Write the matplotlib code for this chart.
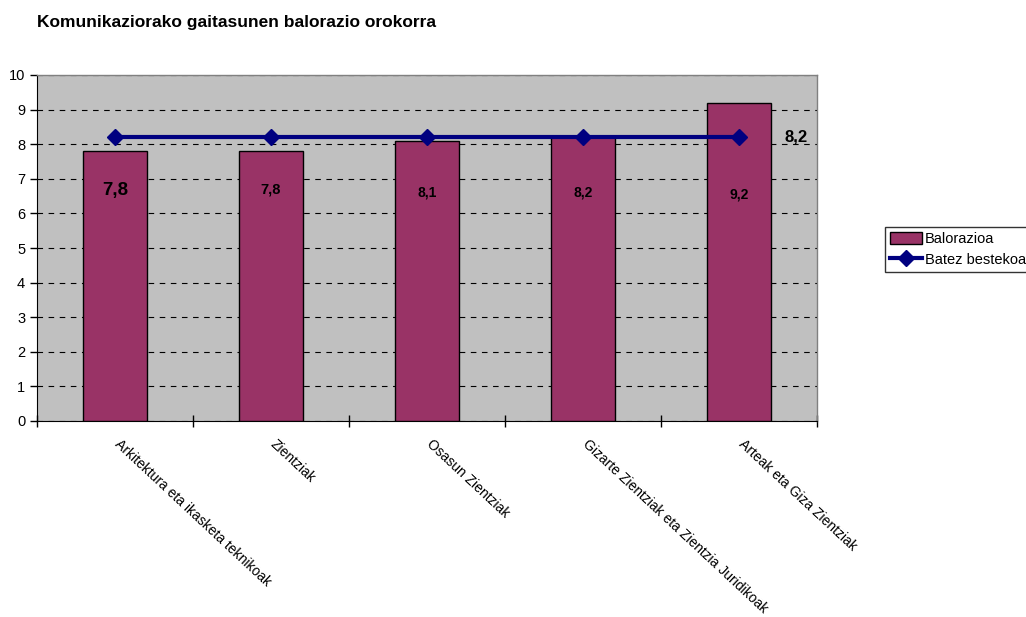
import matplotlib.pyplot as plt
import numpy as np

plt.rcParams['font.family'] = ['Liberation Sans', 'DejaVu Sans']

# data
categories = ['Arkitektura eta ikasketa teknikoak', 'Zientziak', 'Osasun Zientziak',
              'Gizarte Zientziak eta Zientzia Juridikoak', 'Arteak eta Giza Zientziak']
balorazioa = [7.8, 7.8, 8.1, 8.2, 9.2]
batez_bestekoa = [8.2, 8.2, 8.2, 8.2, 8.2]
bar_labels = ['7,8', '7,8', '8,1', '8,2', '9,2']
label_sizes = [13.5, 10.5, 10, 10, 10]
label_y = [6.65, 6.7, 6.6, 6.6, 6.55]

fig = plt.figure(figsize=(10.26, 6.17), dpi=100)
ax = fig.add_axes([37/1026, 1-421/617, 780/1026, 346/617])
ax.set_facecolor('#C0C0C0')

x = np.arange(len(categories))
bars = ax.bar(x, balorazioa, width=0.41, color='#993366', edgecolor='black',
              linewidth=1, zorder=3, label='Balorazioa')
line, = ax.plot(x, batez_bestekoa, color='#000080', linewidth=3, marker='D',
                markersize=8, zorder=4, label='Batez bestekoa')

for xi, lab, fs, ly in zip(x, bar_labels, label_sizes, label_y):
    ax.text(xi, ly, lab, ha='center', va='center', fontsize=fs, fontweight='bold', zorder=5)
ax.text(x[-1] + 0.29, batez_bestekoa[-1], '8,2', ha='left', va='center',
        fontsize=12, fontweight='bold', zorder=5)

ax.set_xlim(-0.5, len(categories) - 0.5)
ax.set_ylim(0, 10)
ax.set_yticks(range(0, 11))
ax.yaxis.grid(True, color='black', linestyle=(0, (5, 5)), linewidth=0.8, zorder=1)
ax.set_axisbelow(True)

ax.set_xticks(np.arange(-0.5, len(categories)))
ax.set_xticklabels([])
for xi, cat in zip(x, categories):
    ax.text(xi + 0.04, -0.45, cat, rotation=-43, rotation_mode='anchor', ha='left', va='top',
            fontsize=10)

ax.tick_params(axis='both', direction='out', length=5, width=1, colors='black', labelsize=10.5)
ax.tick_params(axis='x', direction='inout', length=8)
for side in ['top', 'right']:
    ax.spines[side].set_color('#808080')
    ax.spines[side].set_linewidth(1)
for side in ['left', 'bottom']:
    ax.spines[side].set_color('black')

fig.text(37/1026, 1-22/617, 'Komunikaziorako gaitasunen balorazio orokorra', fontsize=12.5,
         fontweight='bold', ha='left', va='center')

leg = fig.legend(handles=[bars, line], loc='upper left', bbox_to_anchor=(885/1026, 1-227/617),
                 fontsize=10.5, frameon=True, fancybox=False, edgecolor='black',
                 borderpad=0.35, handlelength=2.2, handleheight=0.9, handletextpad=0.2,
                 labelspacing=0.45, borderaxespad=0)
leg.get_frame().set_linewidth(1)

plt.savefig('out.png', dpi=100)
